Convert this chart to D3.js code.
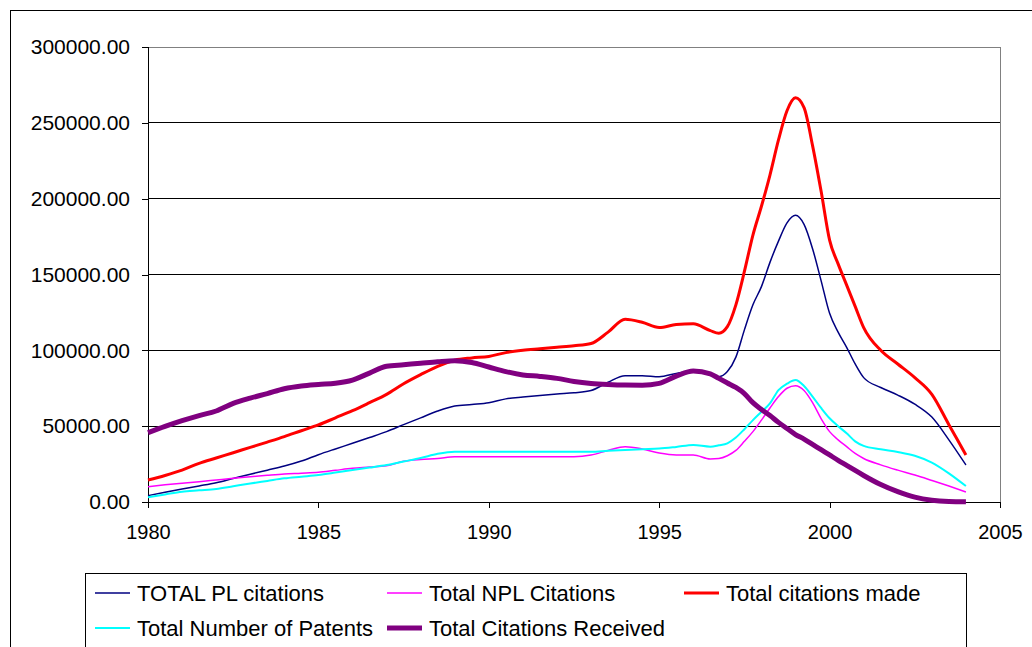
<!DOCTYPE html>
<html>
<head>
<meta charset="utf-8">
<script src="https://cdn.jsdelivr.net/npm/d3@7"></script>
<style>
  body { margin: 0; background: #fff; }
  svg text { font-family: "Liberation Sans", Arial, sans-serif; fill: #000; }
</style>
</head>
<body>
<script>
// years sampled on the chart (half-years, quarters around the peak)
var years = [1980, 1980.5, 1981, 1981.5, 1982, 1982.5, 1983, 1983.5, 1984, 1984.5,
  1985, 1985.5, 1986, 1986.5, 1987, 1987.5, 1988, 1988.5, 1989, 1989.5,
  1990, 1990.5, 1991, 1991.5, 1992, 1992.5, 1993, 1993.5, 1994, 1994.5,
  1995, 1995.5, 1996, 1996.5, 1996.75, 1997, 1997.25, 1997.5, 1997.75, 1998,
  1998.25, 1998.5, 1998.75, 1999, 1999.25, 1999.5, 1999.75, 2000, 2000.25, 2000.5,
  2000.75, 2001, 2001.5, 2002, 2002.5, 2003, 2003.5, 2004];

var plCitations = [4200, 6500, 8600, 10600, 12700, 15500, 18300, 21000, 23700, 27000,
  31200, 35000, 38700, 42500, 46400, 51000, 55500, 60000, 63300, 64300,
  65400, 68000, 69200, 70200, 71200, 72000, 73500, 79000, 83300, 83300,
  82600, 84800, 86600, 84000, 82600, 86000, 95500, 113500, 130000, 142000,
  158000, 172000, 184000, 189000, 183000, 167000, 146000, 124400, 112000, 102000,
  91000, 82000, 75500, 70500, 64500, 56000, 41000, 24400];

var nplCitations = [10100, 11300, 12400, 13400, 14500, 15600, 16600, 17600, 18500, 19000,
  19600, 20900, 22200, 23000, 23900, 26800, 28000, 28700, 29900, 29900,
  29900, 29900, 29900, 29900, 29900, 29900, 31000, 34000, 36500, 35000,
  32300, 31000, 31000, 28400, 28700, 30500, 34000, 40000, 46400, 54000,
  62000, 69500, 75000, 76700, 73500, 65500, 55000, 46400, 41000, 36500,
  32000, 28700, 24500, 21000, 17800, 14200, 10500, 6600];

var citationsMade = [14500, 17500, 21000, 25500, 29000, 32500, 36000, 39500, 43100, 47000,
  50800, 55500, 60200, 65500, 71000, 78000, 84000, 89500, 93500, 95000,
  96000, 98500, 100000, 101000, 102000, 103000, 104500, 112000, 120500, 118500,
  115000, 117000, 117500, 113000, 111300, 115600, 130000, 152000, 176000, 195000,
  215600, 238700, 258000, 266500, 260000, 235000, 205000, 172700, 157000, 143000,
  129000, 115000, 100000, 91000, 82000, 71000, 51000, 31000];

var numPatents = [3100, 5000, 6800, 7700, 8600, 10400, 12200, 13900, 15600, 16700,
  17800, 19400, 21100, 22700, 24400, 26700, 29000, 31800, 33200, 33200,
  33200, 33200, 33200, 33200, 33200, 33200, 33200, 33800, 34300, 34800,
  35200, 36300, 37600, 36500, 37400, 38700, 42500, 48000, 54000, 59500,
  65000, 73800, 78000, 80400, 76500, 69500, 62000, 55200, 50000, 45300,
  40000, 37000, 34800, 33000, 30500, 26000, 18900, 10500];

var citationsReceived = [45700, 49800, 53600, 57000, 60000, 65000, 68500, 71500, 74700, 76500,
  77500, 78300, 80400, 85000, 89500, 90500, 91500, 92500, 93200, 92000,
  89000, 86000, 83800, 82800, 81500, 79500, 78200, 77500, 77100, 77000,
  78200, 83000, 86400, 84500, 81500, 78500, 75500, 71500, 65500, 61000,
  57000, 52500, 48500, 44500, 41500, 38000, 34500, 31000, 27500, 24200,
  20800, 17500, 11500, 6800, 3200, 1200, 400, 200];

var yTicks = [0, 50000, 100000, 150000, 200000, 250000, 300000];
var xTicks = [1980, 1985, 1990, 1995, 2000, 2005];

var series = [
  {name: "TOTAL PL citations", values: plCitations, color: "#000080", width: 1.5},
  {name: "Total NPL Citations", values: nplCitations, color: "#ff00ff", width: 1.5},
  {name: "Total citations made", values: citationsMade, color: "#ff0000", width: 3},
  {name: "Total Number of Patents", values: numPatents, color: "#00ffff", width: 2},
  {name: "Total Citations Received", values: citationsReceived, color: "#800080", width: 5}
];

var W = 1032, H = 647;
var margin = {top: 47, left: 148, right: 32, bottom: 145};
var width = W - margin.left - margin.right,
    height = H - margin.top - margin.bottom;

var svg = d3.select("body").append("svg")
    .attr("width", W)
    .attr("height", H);

// outer chart frame
svg.append("rect")
    .attr("x", 10.5).attr("y", 10.5)
    .attr("width", 1050).attr("height", 680)
    .attr("fill", "none").attr("stroke", "#000");

var g = svg.append("g")
    .attr("transform", "translate(" + margin.left + "," + margin.top + ")");

var x = d3.scaleLinear().domain([1980, 2005]).range([0, width]);
var y = d3.scaleLinear().domain([0, 300000]).range([height, 0]);

// plot area border (top / right in gray)
g.append("rect")
    .attr("x", 0).attr("y", 0)
    .attr("width", width).attr("height", height)
    .attr("fill", "none").attr("stroke", "#808080")
    .attr("shape-rendering", "crispEdges");

// gridlines
g.selectAll(".grid")
    .data(yTicks.filter(function(d) { return d > 0 && d < 300000; }))
  .enter().append("line")
    .attr("x1", 0).attr("x2", width)
    .attr("y1", function(d) { return y(d); })
    .attr("y2", function(d) { return y(d); })
    .attr("stroke", "#000")
    .attr("shape-rendering", "crispEdges");

var yAxis = d3.axisLeft(y)
    .tickValues(yTicks)
    .tickSize(6)
    .tickPadding(12)
    .tickFormat(function(d) { return d3.format(".2f")(d); });
var yg = g.append("g").call(yAxis);
yg.selectAll("text").style("font-size", "21px");

var xAxis = d3.axisBottom(x)
    .tickValues(xTicks)
    .tickSize(6)
    .tickFormat(d3.format("d"))
    .tickPadding(17);
var xg = g.append("g")
    .attr("transform", "translate(0," + height + ")")
    .call(xAxis);
xg.selectAll("text").style("font-size", "20px");

[yg, xg].forEach(function(a) {
  a.select(".domain").attr("stroke", "#000").attr("shape-rendering", "crispEdges");
  a.selectAll(".tick line").attr("stroke", "#000").attr("shape-rendering", "crispEdges");
});

var line = d3.line()
    .curve(d3.curveMonotoneX)
    .x(function(d, i) { return x(years[i]); })
    .y(function(d) { return y(d); });

g.selectAll(".series")
    .data(series)
  .enter().append("path")
    .attr("fill", "none")
    .attr("stroke", function(d) { return d.color; })
    .attr("stroke-width", function(d) { return d.width; })
    .attr("stroke-linejoin", "round")
    .attr("d", function(d) { return line(d.values); });

// legend
var legend = svg.append("g");
legend.append("rect")
    .attr("x", 85.5).attr("y", 573.5)
    .attr("width", 881).attr("height", 100)
    .attr("fill", "#fff").attr("stroke", "#000");

var legendPos = [
  {x: 95, y: 593}, {x: 387, y: 593}, {x: 684, y: 593},
  {x: 95, y: 628}, {x: 387, y: 628}
];
var items = legend.selectAll(".item")
    .data(series)
  .enter().append("g")
    .attr("transform", function(d, i) {
      return "translate(" + legendPos[i].x + "," + legendPos[i].y + ")";
    });
items.append("line")
    .attr("x1", 0).attr("x2", 35)
    .attr("stroke", function(d) { return d.color; })
    .attr("stroke-width", function(d) { return d.width; });
items.append("text")
    .attr("x", 42)
    .attr("dy", "0.35em")
    .style("font-size", "22px")
    .text(function(d) { return d.name; });
</script>
</body>
</html>
